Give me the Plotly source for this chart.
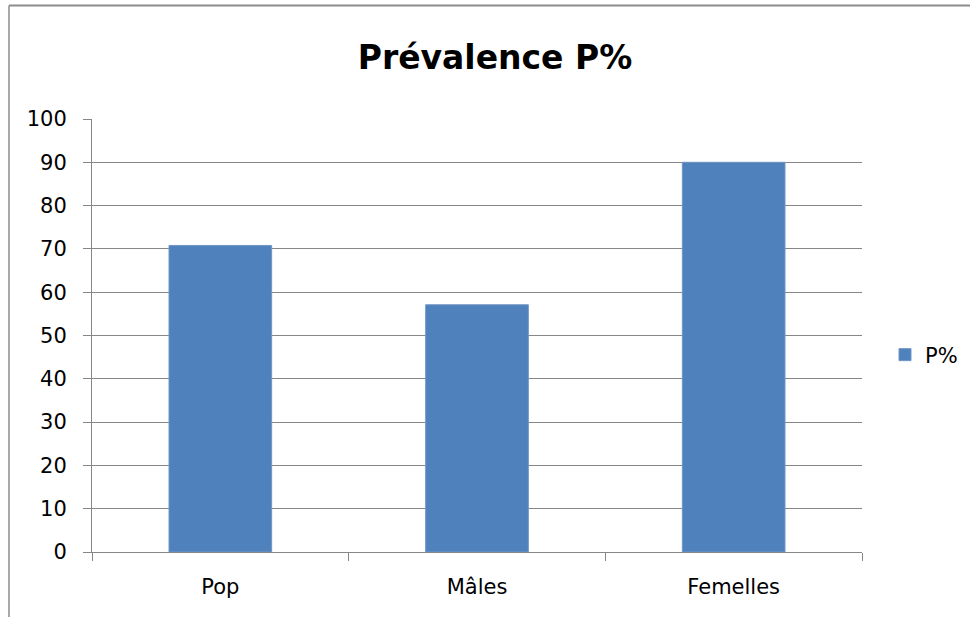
import plotly.graph_objects as go

# Prévalence par groupe (%)
categories = ["Pop", "Mâles", "Femelles"]
prevalence = [70.8, 57.1, 90.0]
series_name = "P%"
y_ticks = list(range(0, 101, 10))

W, H = 970, 617
L, R, T, B = 92, 108, 119, 65
plot_w = W - L - R
plot_h = H - T - B

def px_x(p):
    return (p - L) / plot_w

def px_y(p):
    return (H - B - p) / plot_h

grey = "#878787"
font_family = "DejaVu Sans"

fig = go.Figure()
fig.add_trace(go.Bar(
    x=categories,
    y=prevalence,
    name=series_name,
    marker=dict(color="#4F81BD", line=dict(color="#7096c8", width=1)),
    showlegend=True,
))

fig.update_layout(
    width=W, height=H,
    margin=dict(l=L, r=R, t=T, b=B, pad=0, autoexpand=False),
    paper_bgcolor="white",
    plot_bgcolor="white",
    bargap=0.6,
    font=dict(family=font_family, size=21, color="black"),
    title=dict(
        text="<b>Prévalence P%</b>",
        font=dict(family=font_family, size=33, color="black"),
        x=495 / W, xanchor="center", xref="container",
        y=(H - 57) / H, yanchor="middle", yref="container",
    ),
    showlegend=True,
    legend=dict(
        x=px_x(885), xanchor="left",
        y=px_y(355), yanchor="middle",
        bgcolor="rgba(0,0,0,0)",
        font=dict(family=font_family, size=21, color="black"),
        itemwidth=30,
    ),
    xaxis=dict(
        type="category",
        showline=True, linecolor=grey, linewidth=1,
        ticks="outside", ticklen=8, tickcolor=grey, tickwidth=1,
        tickson="boundaries",
        ticklabelstandoff=16,
        showgrid=False, zeroline=False,
    ),
    yaxis=dict(
        range=[0, 100],
        tickvals=y_ticks,
        showline=True, linecolor=grey, linewidth=1,
        ticks="outside", ticklen=8, tickcolor=grey, tickwidth=1,
        ticklabelstandoff=12,
        showgrid=True, gridcolor=grey, gridwidth=1,
        zeroline=False,
    ),
)

# Chart frame (top and left edges of the chart area border)
frame_top = px_y(5.5)
frame_left = px_x(9)
fig.add_shape(type="line", xref="paper", yref="paper",
              x0=frame_left, x1=px_x(972), y0=frame_top, y1=frame_top,
              line=dict(color="#8c8c8c", width=2))
fig.add_shape(type="line", xref="paper", yref="paper",
              x0=frame_left, x1=frame_left, y0=frame_top, y1=px_y(620),
              line=dict(color="#8c8c8c", width=1.5))

fig.write_html("out.html")
